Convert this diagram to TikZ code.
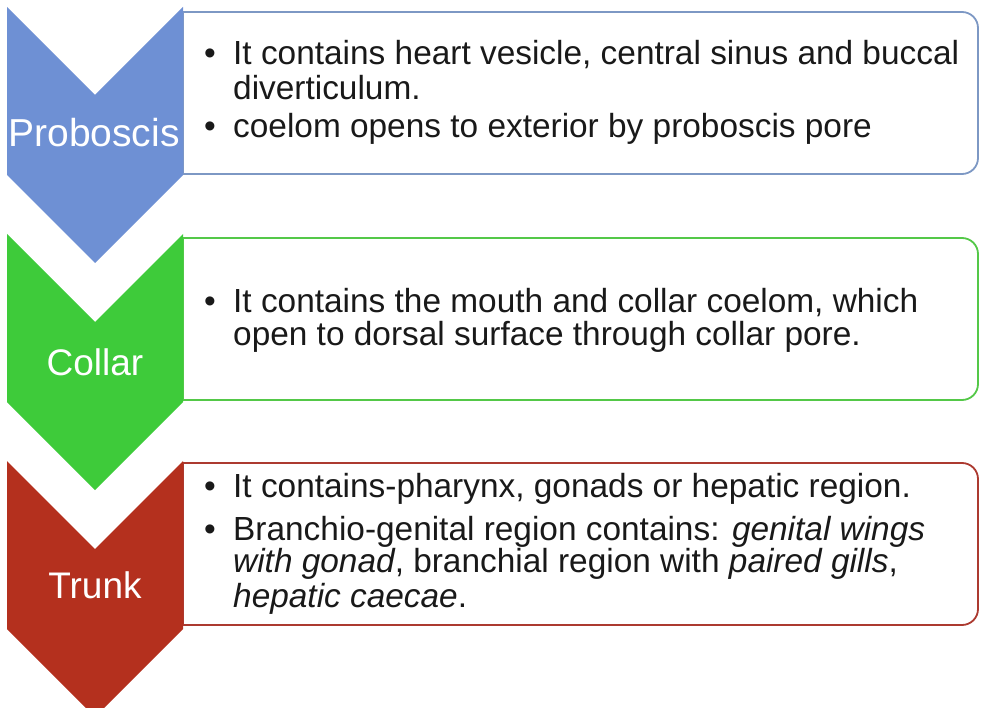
\documentclass[tikz,border=0pt]{standalone}
\usepackage{fontspec}
\setmainfont{Liberation Sans}
\definecolor{cblue}{RGB}{110,144,212}
\definecolor{cgreen}{RGB}{62,203,58}
\definecolor{cred}{RGB}{180,48,30}
\definecolor{bblue}{RGB}{125,152,196}
\definecolor{bgreen}{RGB}{84,200,72}
\definecolor{bred}{RGB}{172,58,48}
\definecolor{tdark}{RGB}{25,25,25}
\begin{document}
\begin{tikzpicture}[x=1pt,y=-1pt,
  txt/.style={anchor=base west, inner sep=0pt, font=\fontsize{33.4}{35}\selectfont, text=tdark},
  bul/.style={anchor=base, inner sep=0pt, font=\fontsize{33.4}{35}\selectfont, text=tdark},
  lbl/.style={anchor=base, inner sep=0pt, font=\fontsize{37}{40}\selectfont, text=white},
  boxline/.style={line width=1.8pt, fill=white}]
\useasboundingbox (0,0) rectangle (981,708);
\clip (0,0) rectangle (981,708);
% boxes
\draw[boxline, draw=bblue] (183,12) -- (962,12) arc[start angle=-90, end angle=0, radius=16] -- (978,158) arc[start angle=0, end angle=90, radius=16] -- (183,174) -- cycle;
\draw[boxline, draw=bgreen] (183,238) -- (962,238) arc[start angle=-90, end angle=0, radius=16] -- (978,384) arc[start angle=0, end angle=90, radius=16] -- (183,400) -- cycle;
\draw[boxline, draw=bred] (183,463) -- (962,463) arc[start angle=-90, end angle=0, radius=16] -- (978,609) arc[start angle=0, end angle=90, radius=16] -- (183,625) -- cycle;
% chevrons
\fill[cblue] (7,7) -- (95,95) -- (183,7) -- (183,175) -- (95,263) -- (7,175) -- cycle;
\fill[cgreen] (7,234) -- (95,322) -- (183,234) -- (183,402) -- (95,490) -- (7,402) -- cycle;
\fill[cred] (7,461) -- (95,549) -- (183,461) -- (183,629) -- (95,717) -- (7,629) -- cycle;
% labels
\node[lbl, font=\fontsize{39}{42}\selectfont] (l1) at (94,147) {Proboscis};
\node[lbl] (l2) at (95,375) {Collar};
\node[lbl] (l3) at (95,598) {Trunk};
% box 1
\node[bul] (b11) at (210,65) {•};
\node[txt] (t11) at (233,65) {It contains heart vesicle, central sinus and buccal};
\node[txt] (t12) at (233,100) {diverticulum.};
\node[bul] (b12) at (210,138) {•};
\node[txt] (t13) at (233,138) {coelom opens to exterior by proboscis pore};
% box 2
\node[bul] (b21) at (210,312) {•};
\node[txt] (t21) at (233,312) {It contains the mouth and collar coelom, which};
\node[txt] (t22) at (233,345) {open to dorsal surface through collar pore.};
% box 3
\node[bul] (b31) at (210,497) {•};
\node[txt] (t31) at (233,497) {It contains-pharynx, gonads or hepatic region.};
\node[bul] (b32) at (210,540) {•};
\node[txt] (t32) at (233,540) {Branchio-genital region contains: \textit{genital wings}};
\node[txt] (t33) at (233,572) {\textit{with gonad}, branchial region with \textit{paired gills},};
\node[txt] (t34) at (233,607) {\textit{hepatic caecae}.};
\end{tikzpicture}
\end{document}
